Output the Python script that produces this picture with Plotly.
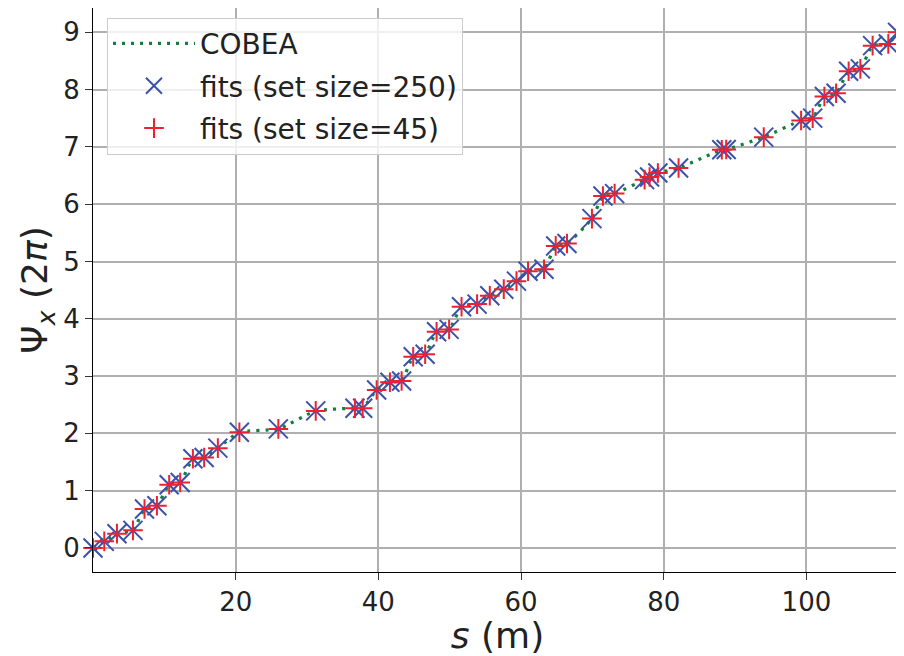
import plotly.graph_objects as go

# positions s (m) of the fitted points
s_fit = [0.0, 1.58, 3.36, 5.60, 7.22, 8.96, 10.68, 12.22, 14.00, 15.58, 17.50,
         20.52, 25.98, 31.22, 36.72, 37.80, 39.76, 41.62, 43.26, 44.88, 46.56,
         48.16, 49.92, 51.66, 53.84, 55.62, 57.58, 59.36, 60.98, 63.22, 64.86,
         66.44, 69.94, 71.48, 73.12, 77.32, 78.02, 79.18, 82.08, 88.14, 88.76,
         94.02, 99.26, 100.88, 102.52, 104.16, 105.92, 107.56, 109.28, 111.48, 112.78]

# phase advance Psi_x (2 pi) -- COBEA and fits coincide at plot resolution
psi_cobea = [0.0, 0.115, 0.249, 0.307, 0.679, 0.737, 1.103, 1.143, 1.556, 1.578, 1.742,
             2.020, 2.078, 2.392, 2.439, 2.439, 2.758, 2.892, 2.915, 3.338, 3.380,
             3.773, 3.815, 4.209, 4.256, 4.401, 4.517, 4.657, 4.831, 4.866, 5.272,
             5.314, 5.749, 6.143, 6.185, 6.429, 6.474, 6.544, 6.631, 6.951, 6.956,
             7.171, 7.462, 7.502, 7.880, 7.937, 8.321, 8.363, 8.768, 8.798, 9.000]
psi_fit250 = list(psi_cobea)
psi_fit45 = list(psi_cobea)

x_ticks = [20, 40, 60, 80, 100]
y_ticks = [0, 1, 2, 3, 4, 5, 6, 7, 8, 9]

GREEN = "#10803e"
BLUE = "#3a52a8"
RED = "#ee2030"
FONT = "DejaVu Sans"
TXT = "#222222"

fig = go.Figure()
fig.add_trace(go.Scatter(
    x=s_fit, y=psi_cobea, mode="lines", name="COBEA",
    line=dict(color=GREEN, width=3.2, dash="3px,6px", shape="spline", smoothing=0.5),
    legendgroup="a"))
fig.add_trace(go.Scatter(
    x=s_fit, y=psi_fit250, mode="markers", name="fits (set size=250)",
    marker=dict(symbol="x-thin", size=19, color=BLUE, line=dict(color=BLUE, width=2)),
    legendgroup="b", cliponaxis=False))
fig.add_trace(go.Scatter(
    x=s_fit, y=psi_fit45, mode="markers", name="fits (set size=45)",
    marker=dict(symbol="cross-thin", size=14, color=RED, line=dict(color=RED, width=2)),
    legendgroup="c", cliponaxis=False))

axis_common = dict(
    showgrid=True, gridcolor="#b0b0b0", gridwidth=1.5,
    showline=True, linecolor="#000000", linewidth=1.2, mirror=True,
    ticks="outside", ticklen=7, tickwidth=1.2, tickcolor="#333333",
    tickfont=dict(family=FONT, size=26, color=TXT),
    zeroline=False, automargin=False,
)

fig.update_xaxes(
    range=[0.0, 113.4], tickvals=x_ticks,
    title=dict(text="<i>s</i> (m)", font=dict(family=FONT, size=36, color=TXT), standoff=7),
    **axis_common)
fig.update_yaxes(
    range=[-0.42, 9.425], tickvals=y_ticks,
    title=dict(text="Ψ<sub><i>x</i></sub> (2<i>π</i>)", font=dict(family=FONT, size=36, color=TXT), standoff=4),
    **axis_common)

# the page body has an 8px margin, so the figure is sized to fit the window
fig.update_layout(
    width=896, height=648,
    margin=dict(l=85, r=2, t=0, b=84),
    plot_bgcolor="white", paper_bgcolor="white",
    font=dict(family=FONT, color=TXT),
    legend=dict(
        x=0.0173, y=0.983, xanchor="left", yanchor="top",
        bgcolor="rgba(255,255,255,0.8)", bordercolor="#cccccc", borderwidth=1,
        font=dict(family=FONT, size=28, color=TXT),
        tracegroupgap=3, itemwidth=82,
    ),
    showlegend=True,
)

fig.write_html("out.html")
